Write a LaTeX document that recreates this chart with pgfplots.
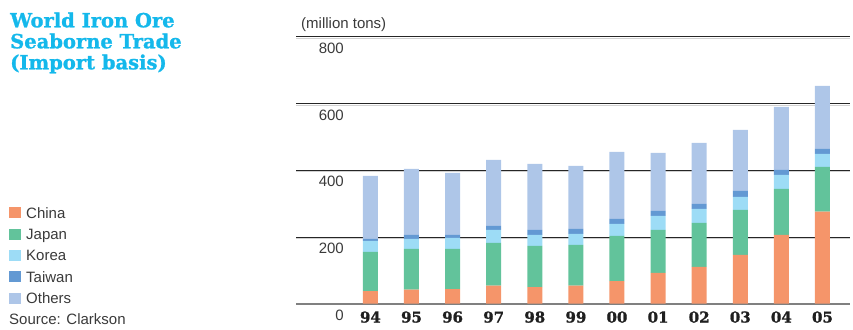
\documentclass[border=0pt]{standalone}
\usepackage{pgfplots}
\pgfplotsset{compat=1.18}
\usepackage{fontspec}
\setmainfont{Liberation Sans}
\newfontfamily\titlefont{DejaVu Serif}[BoldFeatures={FakeBold=1.2}]
\definecolor{cchina}{HTML}{F5956A}
\definecolor{cjapan}{HTML}{62C39B}
\definecolor{ckorea}{HTML}{9DDCF6}
\definecolor{ctaiwan}{HTML}{6399D3}
\definecolor{cothers}{HTML}{AEC6E8}
\definecolor{ctitle}{RGB}{20,184,235}
\definecolor{ctext}{HTML}{3A3A3A}
\begin{document}
\begin{tikzpicture}[x=1pt,y=1pt]
\path[use as bounding box] (0,0) rectangle (853,329);
\begin{axis}[
  at={(296pt,25.3pt)}, anchor=south west,
  scale only axis, width=554pt, height=267pt,
  xmin=-1.81, xmax=11.67, ymin=0, ymax=800,
  ybar stacked, bar width=15pt,
  axis line style={draw=none},
  major tick length=0pt, minor tick length=0pt,
  xtick=data,
  xticklabels={94,95,96,97,98,99,00,01,02,03,04,05},
  xticklabel style={font=\titlefont\bfseries\fontsize{15}{17}\selectfont, text=black!88, anchor=north, inner sep=0pt, yshift=-7.5pt},
  ytick={200,400,600,800},
  extra y ticks={0},
  extra y tick style={grid style={draw=black!50, line width=2pt}},
  minor ytick={195.5,395.5,595.5,795.5},
  ymajorgrids, yminorgrids,
  grid style={draw=black!85, line width=0.9pt},
  minor grid style={draw=black!18, line width=0.9pt},
  /pgf/number format/assume math mode=true,
  yticklabel style={font=\fontsize{15}{17}\selectfont, text=ctext, anchor=north east, inner sep=0pt, xshift=48pt, yshift=-6pt},
]
\addplot[fill=cchina, draw=none] coordinates {(0,38) (1,42) (2,44) (3,54) (4,50) (5,54) (6,68) (7,92) (8,110) (9,146) (10,206) (11,276)};
\addplot[fill=cjapan, draw=none] coordinates {(0,117) (1,122) (2,120) (3,128) (4,123) (5,122) (6,135) (7,129) (8,132) (9,135) (10,138) (11,134)};
\addplot[fill=ckorea, draw=none] coordinates {(0,33) (1,30) (2,33) (3,39) (4,33) (5,33) (6,36) (7,42) (8,42) (9,39) (10,42) (11,39)};
\addplot[fill=ctaiwan, draw=none] coordinates {(0,6) (1,12) (2,9) (3,12) (4,15) (5,15) (6,15) (7,15) (8,15) (9,18) (10,15) (11,15)};
\addplot[fill=cothers, draw=none] coordinates {(0,189) (1,198) (2,186) (3,198) (4,198) (5,189) (6,201) (7,174) (8,183) (9,183) (10,189) (11,189)};
\end{axis}
% title
\node[anchor=base west, inner sep=0pt, text=ctitle, font=\titlefont\bfseries\fontsize{19.5}{21}\selectfont] at (10,301.7) {World Iron Ore};
\node[anchor=base west, inner sep=0pt, text=ctitle, font=\titlefont\bfseries\fontsize{19.5}{21}\selectfont] at (10,280.7) {Seaborne Trade};
\node[anchor=base west, inner sep=0pt, text=ctitle, font=\titlefont\bfseries\fontsize{19.5}{21}\selectfont] at (10,259.7) {(Import basis)};
% unit
\node[anchor=base west, inner sep=0pt, text=ctext, font=\fontsize{15}{17}\selectfont] at (301,300.6) {(million tons)};
% legend
\foreach \c/\t [count=\i from 0] in {cchina/China,cjapan/Japan,ckorea/Korea,ctaiwan/Taiwan,cothers/Others}{
  \pgfmathsetmacro{\yc}{116.3-21.4*\i}
  \fill[\c] (9,\yc-5.5) rectangle (20.5,\yc+5.5);
  \node[anchor=base west, inner sep=0pt, text=ctext, font=\fontsize{15}{17}\selectfont] at (26,\yc-5.4) {\t};
}
\node[anchor=base west, inner sep=0pt, text=ctext, font=\fontsize{15}{17}\selectfont] at (9,4.6) {Source: Clarkson};
\end{tikzpicture}
\end{document}
